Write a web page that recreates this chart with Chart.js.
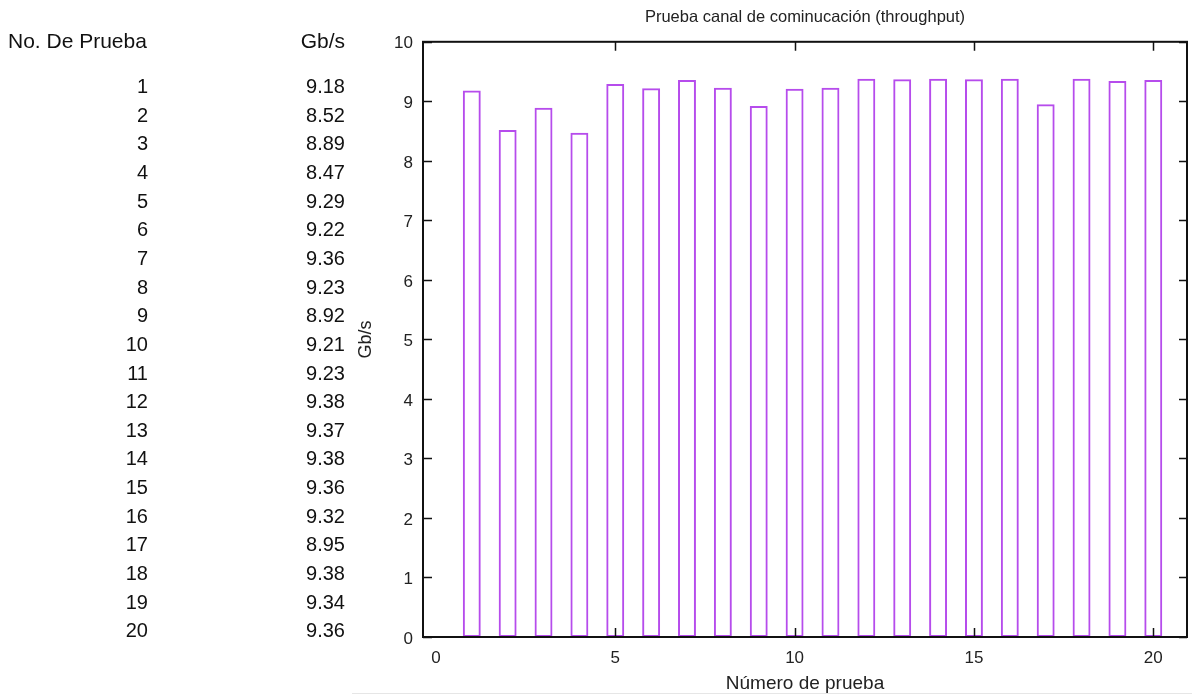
<!DOCTYPE html>
<html>
<head>
<meta charset="utf-8">
<script src="https://cdn.jsdelivr.net/npm/chart.js@4/dist/chart.umd.min.js"></script>
<style>
  body { margin: 0; background: #fff; font-family: 'Liberation Sans', Arial, sans-serif; }
  #wrap { position: relative; width: 1192px; height: 695px; overflow: hidden; }
  #grafica { position: absolute; left: 0; top: 0; }
  .celda { position: absolute; font-size: 20px; line-height: 28px; color: #111; white-space: nowrap; }
  .der { text-align: right; }
  .cab { font-size: 21px; }
  #linea { position: absolute; left: 352px; top: 693px; width: 840px; border-top: 1px solid #e6e6e6; }
</style>
</head>
<body>
<div id="wrap">
  <canvas id="grafica" width="1192" height="695"></canvas>
  <div id="tabla"></div>
  <div id="linea"></div>
</div>
<script>
// Tabla de la izquierda
const pruebas = [1, 2, 3, 4, 5, 6, 7, 8, 9, 10, 11, 12, 13, 14, 15, 16, 17, 18, 19, 20];
const tablaGbs = [9.18, 8.52, 8.89, 8.47, 9.29, 9.22, 9.36, 9.23, 8.92, 9.21,
                  9.23, 9.38, 9.37, 9.38, 9.36, 9.32, 8.95, 9.38, 9.34, 9.36];
// Barras
const graficaGbs = [9.18, 8.52, 8.89, 8.47, 9.29, 9.22, 9.36, 9.23, 8.92, 9.21,
                    9.23, 9.38, 9.37, 9.38, 9.37, 9.38, 8.95, 9.38, 9.34, 9.36];
const yTicks = [0, 1, 2, 3, 4, 5, 6, 7, 8, 9, 10];
const xTicks = [0, 5, 10, 15, 20];

// ---- tabla en html ----
const tabla = document.getElementById('tabla');
function celda(texto, left, top, width, clase) {
    const d = document.createElement('div');
    d.className = 'celda ' + clase;
    d.style.left = left + 'px';
    d.style.top = top + 'px';
    if (width) d.style.width = width + 'px';
    d.textContent = texto;
    tabla.appendChild(d);
}
celda('No. De Prueba', 8, 27, 0, 'cab');
celda('Gb/s', 200, 27, 145, 'der cab');
pruebas.forEach(function(p, i) {
    const top = 72 + i * 28.65;
    celda(String(p), 0, top, 148, 'der');
    celda(tablaGbs[i].toFixed(2), 200, top, 145, 'der');
});

// ---- grafica ----
const fuente = "'Liberation Sans', Arial, sans-serif";

// marco y marcas hacia dentro, estilo gnuplot
const marco = {
    id: 'marco',
    afterDraw(chart) {
        const ctx = chart.ctx;
        const a = chart.chartArea;
        const xs = chart.scales.x, ys = chart.scales.y;
        ctx.save();
        ctx.strokeStyle = '#111';
        ctx.lineWidth = 1.5;
        ctx.beginPath();
        yTicks.forEach(function(v) {
            const py = Math.round(ys.getPixelForValue(v)) + 0.5;
            ctx.moveTo(a.left, py); ctx.lineTo(a.left + 9, py);
            ctx.moveTo(a.right, py); ctx.lineTo(a.right - 8, py);
        });
        xTicks.forEach(function(v) {
            if (v === 0) return;
            const px = Math.round(xs.getPixelForValue(v)) + 0.5;
            ctx.moveTo(px, a.bottom); ctx.lineTo(px, a.bottom - 9);
            ctx.moveTo(px, a.top); ctx.lineTo(px, a.top + 9);
        });
        ctx.stroke();
        ctx.lineWidth = 2;
        ctx.strokeRect(a.left, a.top, a.right - a.left, a.bottom - a.top);
        ctx.restore();
    }
};

const ctx = document.getElementById('grafica').getContext('2d');
new Chart(ctx, {
    type: 'bar',
    data: {
        datasets: [{
            label: 'Gb/s',
            data: pruebas.map(function(p, i) { return { x: p, y: graficaGbs[i] }; }),
            backgroundColor: 'rgba(255,255,255,0)',
            borderColor: '#b64cec',
            borderWidth: 2,
            borderSkipped: false,
            barPercentage: 0.5,
            categoryPercentage: 1
        }]
    },
    options: {
        responsive: false,
        animation: false,
        layout: { padding: { left: 355, right: 5, top: 0, bottom: 0 } },
        plugins: {
            legend: { display: false },
            tooltip: { enabled: false },
            title: {
                display: true,
                fullSize: false,
                text: 'Prueba canal de cominucación (throughput)',
                color: '#222',
                font: { family: fuente, size: 16.5, weight: 'normal' },
                padding: { top: 8, bottom: 14 }
            }
        },
        scales: {
            x: {
                type: 'linear',
                offset: false,
                min: -0.36,
                max: 20.94,
                afterBuildTicks: function(axis) {
                    axis.ticks = xTicks.map(function(v) { return { value: v }; });
                },
                afterFit: function(axis) { axis.height = 58; },
                grid: { display: false, drawTicks: false, offset: false },
                border: { display: false },
                ticks: { color: '#222', padding: 11, font: { family: fuente, size: 17 } },
                title: {
                    display: true,
                    text: 'Número de prueba',
                    color: '#222',
                    font: { family: fuente, size: 19 },
                    padding: 0
                }
            },
            y: {
                min: 0,
                max: 10,
                afterBuildTicks: function(axis) {
                    axis.ticks = yTicks.map(function(v) { return { value: v }; });
                },
                afterFit: function(axis) { axis.width = 68; },
                grid: { display: false, drawTicks: false },
                border: { display: false },
                ticks: { color: '#222', padding: 10, labelOffset: 2, font: { family: fuente, size: 17 } },
                title: {
                    display: true,
                    text: 'Gb/s',
                    color: '#222',
                    font: { family: fuente, size: 18 },
                    padding: 0
                }
            }
        }
    },
    plugins: [marco]
});
</script>
</body>
</html>
